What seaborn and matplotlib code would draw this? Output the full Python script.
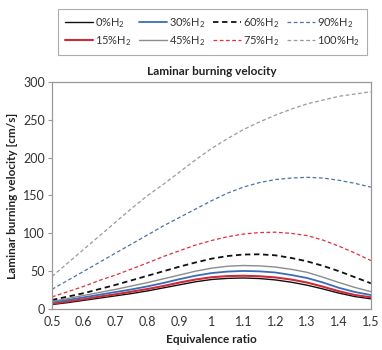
import numpy as np
import pandas as pd
import matplotlib
matplotlib.use("Agg")
import matplotlib.pyplot as plt
import seaborn as sns

# Equivalence ratio grid
phi = [0.5, 0.55, 0.6, 0.65, 0.7, 0.75, 0.8, 0.85, 0.9, 0.95, 1.0,
       1.05, 1.1, 1.15, 1.2, 1.25, 1.3, 1.35, 1.4, 1.45, 1.5]

# Laminar burning velocity [cm/s]
h2_0 = [6, 8.5, 11.5, 14.5, 17.5, 20.5, 24, 28, 32, 36, 39,
        40.5, 41, 40.3, 38.5, 35.5, 31.5, 26.5, 21, 16.5, 13.5]
h2_15 = [7, 10, 13, 16.5, 19.5, 23, 26.5, 30.5, 35, 39, 42,
         43.5, 44, 43.3, 41.8, 39, 35, 29.5, 23.5, 18.5, 15.5]
h2_30 = [9, 12, 15.5, 19, 22.5, 26, 30, 34.5, 39.5, 44, 47.5,
         49.5, 50.3, 49.8, 48.3, 45, 41, 35, 28, 22.5, 18.5]
h2_45 = [10, 14, 18, 22, 26, 30.5, 35, 40, 45, 50, 54,
         56.5, 57.5, 57, 55.5, 52.5, 48.5, 42, 35, 28.5, 23]
h2_60 = [12, 16.5, 21, 26.5, 32, 38, 44, 50, 56, 61.5, 66.5,
         70, 72, 72.3, 71, 67.5, 63, 57, 50, 42, 34]
h2_75 = [16, 23, 30, 38, 45, 53, 61, 69.5, 77, 84.5, 90.5,
         95.5, 99, 101, 101.5, 100, 97, 91, 83, 74, 64]
h2_90 = [26, 38, 50, 62, 74, 86, 98, 110, 121, 132, 143,
         153, 161, 167, 171, 173, 174, 173, 170, 166, 161]
h2_100 = [43, 61, 79, 97, 115, 133, 150, 165, 181, 197, 212,
          225, 237, 247, 256, 264, 271, 276, 281, 284, 287]

series = [
    ("0%H$_2$", h2_0, "#111111", "-", 1.0),
    ("15%H$_2$", h2_15, "#d02a3a", "-", 1.5),
    ("30%H$_2$", h2_30, "#3b6cb7", "-", 1.3),
    ("45%H$_2$", h2_45, "#8c8c8c", "-", 1.0),
    ("60%H$_2$", h2_60, "#111111", (0, (3, 2)), 1.3),
    ("75%H$_2$", h2_75, "#e0303a", (0, (3, 2)), 0.9),
    ("90%H$_2$", h2_90, "#4e72a8", (0, (3, 2)), 0.9),
    ("100%H$_2$", h2_100, "#9a9a9a", (0, (3, 2)), 0.9),
]

sns.set_theme(style="white")
plt.rcParams["font.family"] = ["Lato", "DejaVu Sans"]
plt.rcParams["mathtext.fontset"] = "custom"
plt.rcParams["mathtext.rm"] = "Lato"
plt.rcParams["mathtext.it"] = "Lato"

fig = plt.figure(figsize=(3.82, 3.5), dpi=100)
ax = fig.add_axes([0.136, 0.117, 0.835, 0.649])

for label, vals, color, ls, lw in series:
    df = pd.DataFrame({"phi": phi, "v": vals})
    sns.lineplot(data=df, x="phi", y="v", ax=ax, color=color,
                 linestyle=ls, linewidth=lw, label=label)

ax.set_xlim(0.5, 1.5)
ax.set_ylim(0, 300)
ax.set_xticks(np.arange(0.5, 1.51, 0.1))
ax.set_xticklabels(["0.5", "0.6", "0.7", "0.8", "0.9", "1", "1.1", "1.2",
                    "1.3", "1.4", "1.5"])
ax.set_yticks([0, 50, 100, 150, 200, 250, 300])
ax.tick_params(axis="both", labelsize=9, colors="#333333")
ax.tick_params(axis="y", length=3, width=0.8, color="#999999", left=True, pad=2)
ax.tick_params(axis="x", length=0, pad=5)
for s in ax.spines.values():
    s.set_color("#999999")
    s.set_linewidth(0.9)

ax.set_xlabel("Equivalence ratio", fontsize=8.5, fontweight="bold", color="#222222")
ax.set_ylabel("Laminar burning velocity [cm/s]", fontsize=8.5, fontweight="bold",
              color="#222222")
ax.set_title("Laminar burning velocity", fontsize=8.5, fontweight="bold",
             color="#222222", pad=5)

handles, labels = ax.get_legend_handles_labels()
ax.get_legend().remove()
leg = fig.legend(handles, labels, ncol=4, loc="center",
                 bbox_to_anchor=(0.152, 0.842, 0.809, 0.134), mode="expand",
                 fontsize=8, frameon=True, fancybox=False, edgecolor="#999999",
                 handlelength=2.5, handletextpad=0.25, columnspacing=0.5,
                 borderpad=0.6, labelspacing=0.4, borderaxespad=0)
leg.get_frame().set_linewidth(0.8)
for t in leg.get_texts():
    t.set_color("#333333")

fig.savefig("out.png", dpi=100)
